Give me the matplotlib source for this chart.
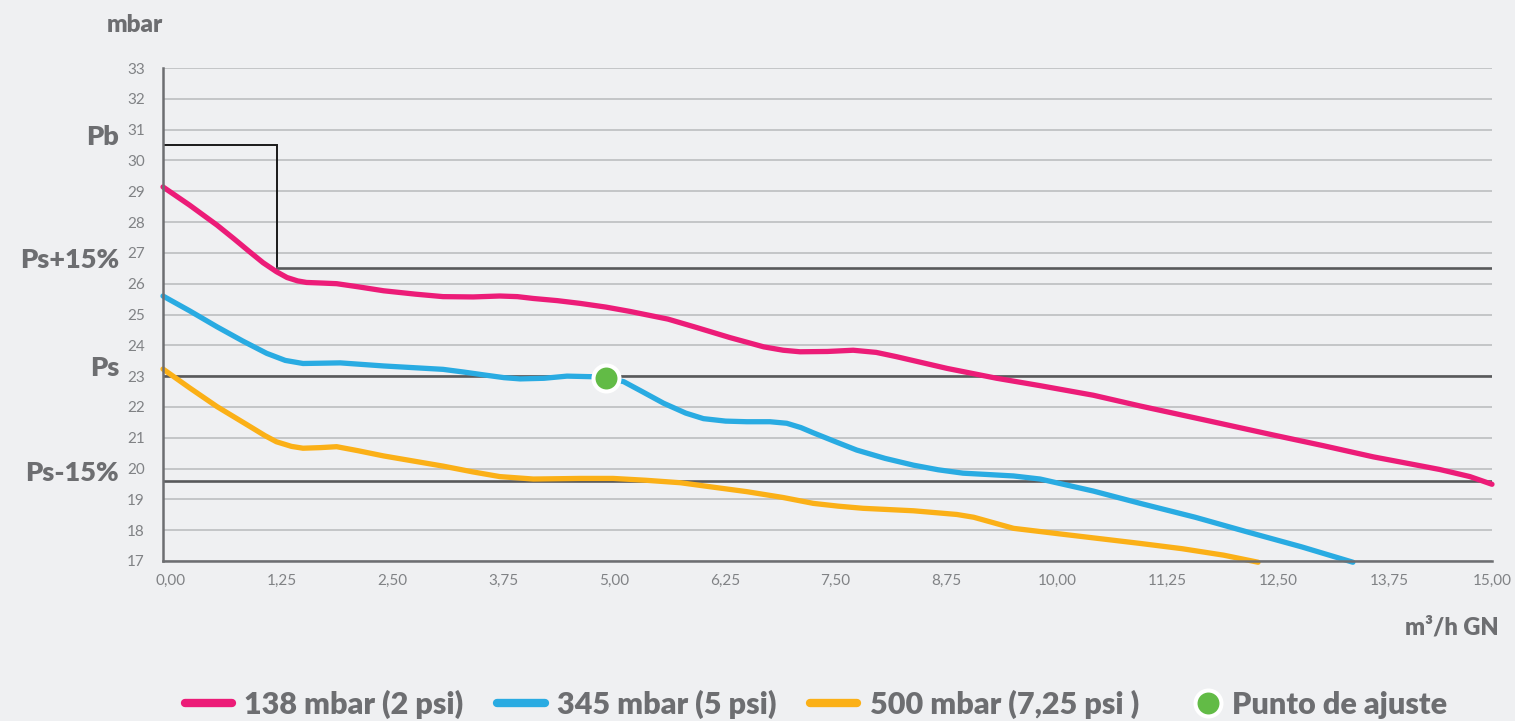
import matplotlib
matplotlib.use("Agg")
import matplotlib.pyplot as plt
from matplotlib.transforms import ScaledTranslation, blended_transform_factory
from matplotlib.legend_handler import HandlerLine2D

# ---------------- data ----------------
x_138 = [0.00, 0.30, 0.61, 0.80, 0.98, 1.13, 1.28, 1.40, 1.52, 1.62, 1.80, 1.96, 2.20, 2.49, 2.85, 3.16,
         3.50, 3.80, 4.00, 4.18, 4.45, 4.71, 5.00, 5.27, 5.70, 6.02, 6.40, 6.78, 7.00, 7.19, 7.50, 7.79,
         8.05, 8.28, 8.55, 8.85, 9.41, 9.90, 10.50, 11.03, 11.80, 12.53, 13.10, 13.66, 14.10, 14.41,
         14.75, 15.00]
y_138 = [29.14, 28.55, 27.90, 27.46, 27.03, 26.68, 26.39, 26.20, 26.09, 26.04, 26.02, 26.00, 25.90, 25.77,
         25.66, 25.58, 25.57, 25.60, 25.58, 25.52, 25.45, 25.36, 25.24, 25.10, 24.85, 24.58, 24.25, 23.95,
         23.84, 23.79, 23.80, 23.84, 23.77, 23.63, 23.45, 23.25, 22.93, 22.69, 22.38, 22.03, 21.55, 21.09,
         20.74, 20.38, 20.14, 19.97, 19.74, 19.49]

x_345 = [0.00, 0.30, 0.61, 0.90, 1.17, 1.38, 1.58, 1.80, 2.00, 2.49, 3.16, 3.40, 3.62, 3.85, 4.03, 4.30,
         4.56, 4.86, 5.00, 5.20, 5.42, 5.65, 5.90, 6.10, 6.35, 6.59, 6.85, 7.04, 7.20, 7.34, 7.60, 7.83,
         8.15, 8.47, 8.75, 9.03, 9.35, 9.60, 9.90, 10.50, 11.03, 11.65, 12.23, 12.85, 13.43]
y_345 = [25.60, 25.12, 24.60, 24.14, 23.74, 23.51, 23.41, 23.42, 23.43, 23.33, 23.22, 23.13, 23.04, 22.95,
         22.91, 22.93, 23.00, 22.98, 22.95, 22.82, 22.48, 22.12, 21.80, 21.62, 21.54, 21.52, 21.52, 21.47,
         21.33, 21.16, 20.86, 20.60, 20.33, 20.11, 19.96, 19.85, 19.80, 19.76, 19.66, 19.27, 18.87, 18.42,
         17.95, 17.46, 16.96]

x_500 = [0.00, 0.30, 0.61, 0.95, 1.15, 1.28, 1.45, 1.58, 1.78, 1.96, 2.20, 2.49, 3.16, 3.50, 3.80, 4.18,
         4.71, 5.08, 5.45, 5.84, 6.20, 6.59, 7.00, 7.34, 7.62, 7.90, 8.47, 8.96, 9.15, 9.30, 9.60, 10.12,
         11.03, 11.50, 11.97, 12.36]
y_500 = [23.23, 22.62, 22.01, 21.42, 21.07, 20.87, 20.72, 20.66, 20.68, 20.71, 20.58, 20.41, 20.08, 19.89,
         19.74, 19.66, 19.68, 19.68, 19.62, 19.54, 19.40, 19.25, 19.06, 18.87, 18.78, 18.71, 18.63, 18.51,
         18.42, 18.30, 18.06, 17.88, 17.57, 17.40, 17.19, 16.96]

series_labels = ["138 mbar (2 psi)", "345 mbar (5 psi)", "500 mbar (7,25 psi )"]
point_label = "Punto de ajuste"
point_x = [5.00]
point_y = [22.95]

PB = 30.5
PS_PLUS = 26.5
PS = 23.0
PS_MINUS = 19.6
PB_STEP_X = 1.29

ref_labels = ["Pb", "Ps+15%", "Ps", "Ps-15%"]
ref_levels = [PB, PS_PLUS, PS, PS_MINUS]

x_ticks = [0, 1.25, 2.5, 3.75, 5, 6.25, 7.5, 8.75, 10, 11.25, 12.5, 13.75, 15]
x_ticklabels = ["0,00", "1,25", "2,50", "3,75", "5,00", "6,25", "7,50", "8,75",
                "10,00", "11,25", "12,50", "13,75", "15,00"]
y_ticks = list(range(17, 34))

# ---------------- style ----------------
BG = "#eff0f2"
GRID = "#bcbec0"
DARK = "#58595b"
TXT = "#6d6e71"
TICK = "#808285"
PINK = "#ec1c78"
BLUE = "#29abe2"
ORANGE = "#fbb017"
GREEN = "#62bb46"
FAM = ["Lato", "DejaVu Sans"]

plt.rcParams["font.family"] = FAM


class RightMarkerHandler(HandlerLine2D):
    """Place the single legend marker near the text, as in the reference."""
    def get_xdata(self, legend, xdescent, ydescent, width, height, fontsize):
        xd = [-xdescent + width - 0.4 * fontsize]
        return xd, xd


fig = plt.figure(figsize=(15.15, 7.21), dpi=100, facecolor=BG)
ax = fig.add_axes([163 / 1515, 1 - 561 / 721, (1492 - 163) / 1515, (561 - 68) / 721])
ax.set_facecolor(BG)
ax.set_xlim(0, 15)
ax.set_ylim(17, 33)

for s in ["top", "right"]:
    ax.spines[s].set_visible(False)
for s in ["left", "bottom"]:
    ax.spines[s].set_color(TXT)
    ax.spines[s].set_linewidth(1.8)
    ax.spines[s].set_zorder(6)

ax.set_yticks(y_ticks)
ax.set_xticks(x_ticks)
ax.set_xticklabels(x_ticklabels)
ax.tick_params(axis="both", length=0, labelsize=11, labelcolor=TICK)
ax.tick_params(axis="y", pad=13)
ax.tick_params(axis="x", pad=9)
off = ScaledTranslation(8 / 100, 0, fig.dpi_scale_trans)
for lab in ax.get_xticklabels()[:-1]:
    lab.set_transform(lab.get_transform() + off)

ax.yaxis.grid(True, color=GRID, linewidth=1.2, zorder=1)
ax.set_axisbelow(True)

# reference lines
ax.plot([0, PB_STEP_X, PB_STEP_X], [PB, PB, PS_PLUS], color="#1a1a1a", lw=1.4, zorder=3,
        solid_joinstyle="miter")
ax.plot([PB_STEP_X, 15], [PS_PLUS, PS_PLUS], color=DARK, lw=1.9, zorder=3)
ax.axhline(PS, color=DARK, lw=1.9, zorder=3)
ax.axhline(PS_MINUS, color=DARK, lw=1.9, zorder=3)

# curves
kw = dict(lw=3.8, solid_capstyle="round", solid_joinstyle="round", zorder=4, clip_on=False)
l1, = ax.plot(x_138, y_138, color=PINK, label=series_labels[0], **kw)
l2, = ax.plot(x_345, y_345, color=BLUE, label=series_labels[1], **kw)
l3, = ax.plot(x_500, y_500, color=ORANGE, label=series_labels[2], **kw)
pt, = ax.plot(point_x, point_y, "o", ms=18.7, mfc=GREEN, mec="white", mew=2.9, zorder=7,
              label=point_label, linestyle="none")

# left reference labels
tr = blended_transform_factory(fig.transFigure, ax.transData)
for lab, lev in zip(ref_labels, ref_levels):
    ax.text(119 / 1515, lev, lab, transform=tr, ha="right", va="baseline",
            fontsize=19.5, fontweight="heavy", color=TXT)

# axis titles
fig.text(135 / 1515, 1 - 32 / 721, "mbar", ha="center", va="baseline",
         fontsize=17.5, fontweight="heavy", color=TXT)
fig.text(1499 / 1515, 1 - 635 / 721, "m³/h GN", ha="right", va="baseline",
         fontsize=17, fontweight="heavy", color=TXT)

# legend
leg = fig.legend(handles=[l1, l2, l3, pt], loc="center", ncol=4,
                 bbox_to_anchor=(816 / 1515, 1 - 704 / 721), frameon=False,
                 prop={"family": FAM, "weight": "heavy", "size": 22},
                 handlelength=1.55, handletextpad=0.4, columnspacing=1.1, borderpad=0,
                 handler_map={pt: RightMarkerHandler()})
for t in leg.get_texts():
    t.set_color(TXT)
for h in leg.legend_handles[:3]:
    h.set_linewidth(6)
    h.set_solid_capstyle("round")

fig.savefig("out.png", dpi=100, facecolor=BG)
